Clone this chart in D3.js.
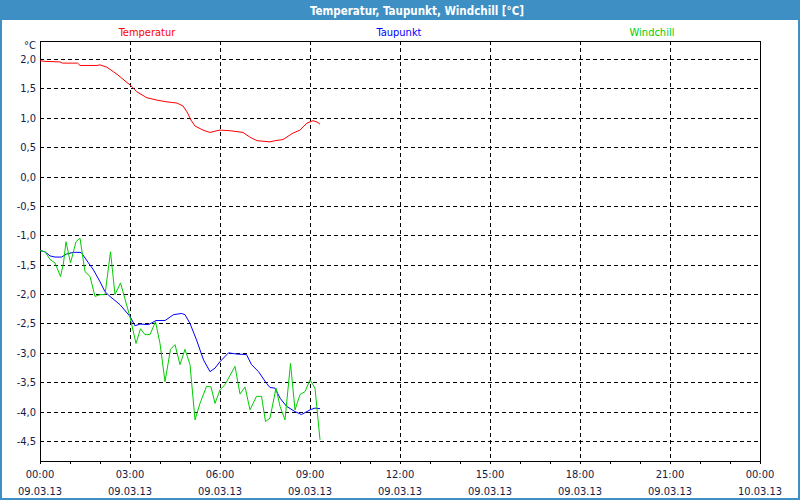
<!DOCTYPE html>
<meta charset="utf-8">
<style>
  body { margin: 0; background: #fff; }
  svg { display: block; font-family: "DejaVu Sans Condensed", "DejaVu Sans", sans-serif; font-size: 11px; }
  .grid line { stroke: #000; stroke-dasharray: 4,3; shape-rendering: crispEdges; }
  .lbl { fill: #101c4a; }
</style>
<body>
<script src="https://cdn.jsdelivr.net/npm/d3@7"></script>
<script>
  'use strict';

  // minutes after 00:00 on 09.03.13
  const tempTimes = [0, 10, 40, 45, 75, 80, 114, 120, 134, 154, 174, 180, 194, 214, 234, 254, 274, 286, 294, 302, 310,
                     326, 340, 354, 360, 380, 406, 420, 434, 460, 470, 486, 506, 520, 534, 546, 556, 560];
  const tempValues = [1.97, 1.96, 1.95, 1.93, 1.93, 1.89, 1.89, 1.90, 1.86, 1.74, 1.60, 1.56, 1.44, 1.34, 1.30, 1.27, 1.25,
                      1.20, 1.10, 0.96, 0.86, 0.79, 0.75, 0.78, 0.79, 0.78, 0.75, 0.67, 0.61, 0.59, 0.61, 0.63, 0.74,
                      0.79, 0.91, 0.95, 0.92, 0.89];

  const dewTimes = [0, 10, 20, 30, 43, 53, 66, 80, 83, 97, 107, 120, 130, 140, 160, 180, 190, 200, 217, 232, 250, 267, 283,
                    290, 300, 313, 327, 340, 350, 360, 377, 393, 413, 423, 437, 453, 460, 470, 480, 493, 510, 523, 540, 550, 560];
  const dewValues = [-1.26, -1.28, -1.35, -1.37, -1.37, -1.32, -1.29, -1.29, -1.30, -1.47, -1.59, -1.79, -1.96, -2.04,
                     -2.18, -2.38, -2.54, -2.51, -2.52, -2.45, -2.45, -2.35, -2.33, -2.35, -2.50, -2.78, -3.12, -3.32,
                     -3.26, -3.15, -3.00, -3.02, -3.03, -3.20, -3.32, -3.52, -3.59, -3.60, -3.77, -3.91, -4.00, -4.05,
                     -3.97, -3.94, -3.95];

  const chillTimes = [0, 10, 20, 30, 41, 47, 52, 61, 72, 80, 90, 100, 110, 120, 130, 141, 150, 161, 180, 192, 201, 210,
                      220, 231, 240, 250, 261, 270, 280, 290, 300, 310, 320, 333, 342, 350, 360, 370, 390, 400, 410, 420,
                      433, 443, 451, 460, 472, 480, 490, 501, 510, 520, 530, 540, 550, 560];
  const chillValues = [-1.26, -1.28, -1.41, -1.47, -1.70, -1.47, -1.11, -1.47, -1.11, -1.05, -1.62, -1.70, -2.04, -2.01,
                       -2.01, -1.28, -2.01, -1.81, -2.39, -2.84, -2.59, -2.69, -2.69, -2.47, -2.84, -3.49, -2.94, -2.86,
                       -3.20, -2.94, -3.20, -4.14, -3.86, -3.57, -3.58, -3.86, -3.63, -3.54, -3.23, -3.70, -3.58, -3.97,
                       -3.74, -3.74, -4.17, -4.11, -3.60, -3.91, -4.14, -3.18, -3.97, -3.71, -3.66, -3.46, -3.60, -4.48];

  const seriesNames = ["Temperatur", "Taupunkt", "Windchill"];
  const seriesColors = ["#ff0000", "#0000ff", "#00cc00"];
  const yTicks = [2.0, 1.5, 1.0, 0.5, 0.0, -0.5, -1.0, -1.5, -2.0, -2.5, -3.0, -3.5, -4.0, -4.5];
  const title = "Temperatur, Taupunkt, Windchill [°C]";

  const W = 800, H = 500;
  const box = {left: 40, right: 760, top: 41, bottom: 461};
  const day0 = new Date(2013, 2, 9, 0, 0);
  const day1 = new Date(2013, 2, 10, 0, 0);
  const at = (m) => new Date(day0.getTime() + m * 60000);

  const x = d3.scaleTime().domain([day0, day1]).range([box.left, box.right]);
  const y = d3.scaleLinear().domain([-4.5, 2.0]).range([441, 59]);

  const svg = d3.select("body").append("svg").attr("width", W).attr("height", H);

  // window frame + title bar
  svg.append("rect").attr("x", 0).attr("y", 0).attr("width", W).attr("height", H).attr("fill", "#3d8fc4");
  svg.append("rect").attr("x", 2).attr("y", 20).attr("width", W - 4).attr("height", H - 22).attr("fill", "#fff");
  svg.append("text").attr("x", 417).attr("y", 14.5).attr("text-anchor", "middle")
     .attr("fill", "#fff").style("font-weight", "bold").style("font-size", "11.5px").text(title);

  // legend
  const legendX = [147, 399, 652];
  svg.selectAll(".leg").data(seriesNames).enter().append("text")
     .attr("x", (d, i) => legendX[i]).attr("y", 36).attr("text-anchor", "middle")
     .attr("fill", (d, i) => seriesColors[i]).text((d) => d);

  svg.append("text").attr("class", "lbl").attr("x", 24).attr("y", 49).text("°C");

  // grid
  const grid = svg.append("g").attr("class", "grid");
  grid.selectAll(".h").data(yTicks).enter().append("line")
      .attr("x1", box.left).attr("x2", box.right)
      .attr("y1", (d) => Math.round(y(d)) + 0.5).attr("y2", (d) => Math.round(y(d)) + 0.5);
  const vTicks = d3.timeHour.every(3).range(d3.timeHour.offset(day0, 3), day1);
  grid.selectAll(".v").data(vTicks).enter().append("line")
      .attr("y1", box.top).attr("y2", box.bottom)
      .attr("x1", (d) => Math.round(x(d)) + 0.5).attr("x2", (d) => Math.round(x(d)) + 0.5);

  // frame
  svg.append("rect").attr("x", box.left + 0.5).attr("y", box.top + 0.5)
     .attr("width", box.right - box.left).attr("height", box.bottom - box.top)
     .attr("fill", "none").attr("stroke", "#000").style("shape-rendering", "crispEdges");

  // y labels
  const fmt = (v) => d3.format(".1f")(v).replace(".", ",").replace("−", "-");
  svg.selectAll(".yl").data(yTicks).enter().append("text").attr("class", "lbl")
     .attr("x", 36).attr("y", (d) => y(d) + 4).attr("text-anchor", "end").text(fmt);

  // x axis ticks and labels
  const hours = d3.timeHour.every(1).range(day0, d3.timeHour.offset(day1, 1));
  svg.selectAll(".xt").data(hours).enter().append("line")
     .attr("x1", (d) => Math.round(x(d)) + 0.5).attr("x2", (d) => Math.round(x(d)) + 0.5)
     .attr("y1", box.bottom).attr("y2", box.bottom + 3)
     .attr("stroke", "#000").style("shape-rendering", "crispEdges");
  const major = d3.timeHour.every(3).range(day0, d3.timeHour.offset(day1, 1));
  const xl = svg.selectAll(".xl").data(major).enter().append("g")
     .attr("transform", (d) => `translate(${x(d)},0)`);
  xl.append("text").attr("class", "lbl").attr("y", 478).attr("text-anchor", "middle").text(d3.timeFormat("%H:%M"));
  xl.append("text").attr("class", "lbl").attr("y", 495).attr("text-anchor", "middle").text(d3.timeFormat("%d.%m.%y"));

  // series
  const line = d3.line().x((d) => x(at(d[0]))).y((d) => y(d[1]));
  const series = [
    d3.zip(tempTimes, tempValues),
    d3.zip(dewTimes, dewValues),
    d3.zip(chillTimes, chillValues)
  ];
  svg.selectAll(".series").data(series).enter().append("path")
     .attr("d", line).attr("fill", "none")
     .attr("stroke", (d, i) => seriesColors[i]).attr("stroke-width", 1);
</script>
</body>
